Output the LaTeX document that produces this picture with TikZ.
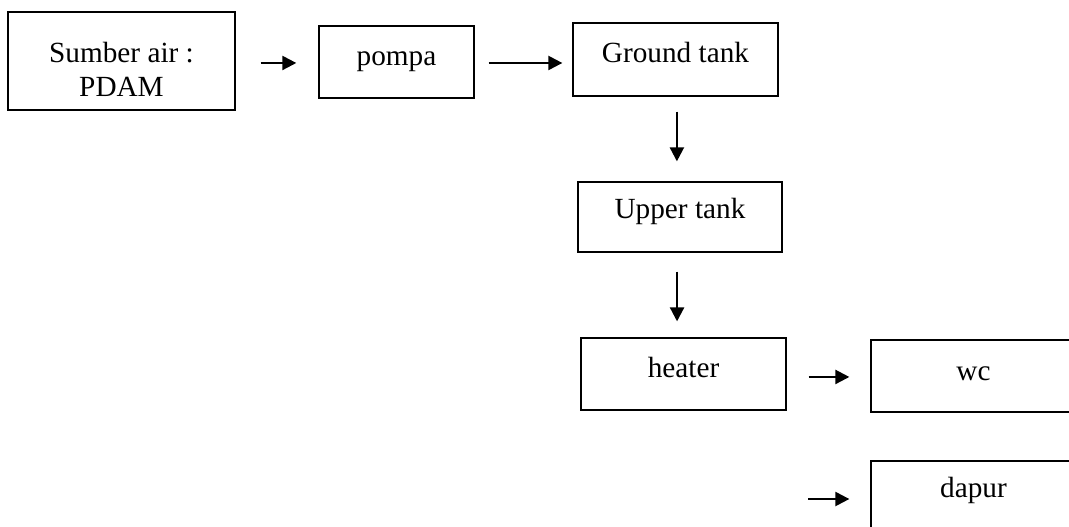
\documentclass[tikz,border=0pt]{standalone}
\usepackage{fontspec}
\setmainfont{Liberation Serif}
\usetikzlibrary{arrows.meta}

\tikzset{
  box/.style={draw,line width=0.9pt,inner sep=0pt,font=\fontsize{20.8}{24.2}\selectfont,align=center},
  flow/.style={line width=1.6pt,-{Triangle[length=10pt,width=10pt]}}
}

\begin{document}
\begin{tikzpicture}[x=0.025cm,y=-0.025cm]
\useasboundingbox(0,0)rectangle(1069,526);
\clip(0,0)rectangle(1069,526);
% boxes, text pushed up by text height/depth
\node[box,minimum width=161.5pt,text height=60pt,text depth=9.7pt](sa)at(121.5,61){Sumber air :\\PDAM};
\node[box,minimum width=110.3pt,text height=28.4pt,text depth=22.8pt](pompa)at(396.5,62){pompa};
\node[box,minimum width=145.8pt,text height=28.4pt,text depth=23.5pt](gt)at(675.5,59.5){Ground tank};
\node[box,minimum width=145.1pt,text height=26.3pt,text depth=23.5pt](ut)at(680,217){Upper tank};
\node[box,minimum width=145.8pt,text height=28.4pt,text depth=22.8pt](ht)at(683.5,374){heater};
\node[box,minimum width=145.8pt,text height=29pt,text depth=22.2pt](wc)at(973.5,376){wc};
\node[box,minimum width=145.8pt,text height=26.3pt,text depth=24.9pt](dp)at(973.5,497){dapur};
\coordinate(split)at(808,499);
% arrows
\draw[flow,shorten <=25*0.7113pt,shorten >=22*0.7113pt]([yshift=-1.4pt]sa.east)--([yshift=-1.4pt]sa.east-|pompa.west);
\draw[flow,shorten <=14*0.7113pt,shorten >=10*0.7113pt]([yshift=-0.7pt]pompa.east)--([yshift=-0.7pt]pompa.east-|gt.west);
\draw[flow,shorten <=15*0.7113pt,shorten >=20*0.7113pt]([xshift=1pt]gt.south)--([xshift=1pt]gt.south|-ut.north);
\draw[flow,shorten <=19*0.7113pt,shorten >=16*0.7113pt]([xshift=-2.1pt]ut.south)--([xshift=-2.1pt]ut.south|-ht.north);
\draw[flow,shorten <=22*0.7113pt,shorten >=21*0.7113pt]([yshift=-2.1pt]ht.east)--([yshift=-2.1pt]ht.east-|wc.west);
\draw[flow,shorten >=21*0.7113pt](split)--(split-|dp.west);
\end{tikzpicture}
\end{document}
